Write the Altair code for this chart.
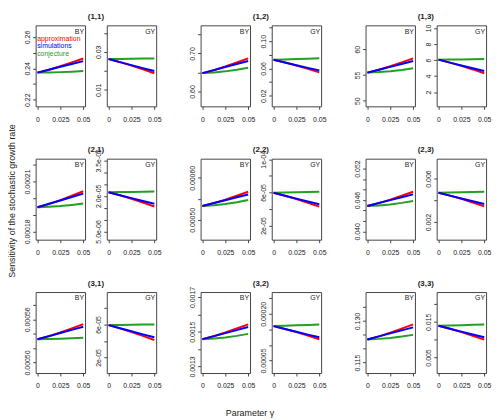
import altair as alt
import pandas as pd

FONT = "Liberation Sans"

gamma = [0, 0.0125, 0.025, 0.0375, 0.05]
series_names = ["approximation", "simulations", "conjecture"]
series_colors = {"approximation": "#FF0000", "simulations": "#0000FF", "conjecture": "#22A022"}
x_ticks = [0, 0.025, 0.05]
x_tick_labels = ["0", "0.025", "0.05"]

# ---- (1,1)
by11_approximation = [0.2373, 0.2391, 0.2414, 0.2438, 0.2463]
by11_simulations = [0.2373, 0.2391, 0.2410, 0.2428, 0.2446]
by11_conjecture = [0.2373, 0.2374, 0.2376, 0.2379, 0.2383]
gy11_approximation = [0.02617, 0.02453, 0.02273, 0.02079, 0.01870]
gy11_simulations = [0.02617, 0.02454, 0.02298, 0.02141, 0.01991]
gy11_conjecture = [0.02617, 0.02624, 0.02633, 0.02642, 0.02652]
# ---- (1,2)
by12_approximation = [0.6483, 0.6560, 0.6657, 0.6762, 0.6870]
by12_simulations = [0.6483, 0.6562, 0.6642, 0.6721, 0.6800]
by12_conjecture = [0.6483, 0.6500, 0.6529, 0.6572, 0.6626]
gy12_approximation = [0.0727, 0.0687, 0.0642, 0.0595, 0.0543]
gy12_simulations = [0.0727, 0.0687, 0.0648, 0.0609, 0.0572]
gy12_conjecture = [0.0727, 0.0732, 0.0738, 0.0744, 0.0751]
# ---- (1,3)
by13_approximation = [55.45, 56.00, 56.69, 57.44, 58.21]
by13_simulations = [55.45, 56.01, 56.57, 57.13, 57.69]
by13_conjecture = [55.45, 55.55, 55.72, 55.96, 56.28]
gy13_approximation = [6.05, 5.68, 5.27, 4.83, 4.35]
gy13_simulations = [6.05, 5.68, 5.33, 4.98, 4.64]
gy13_conjecture = [6.05, 6.06, 6.08, 6.10, 6.12]
# ---- (2,1)
by21_approximation = [0.0001945, 0.0001964, 0.0001988, 0.0002014, 0.0002041]
by21_simulations = [0.0001945, 0.0001966, 0.0001986, 0.0002007, 0.0002027]
by21_conjecture = [0.0001945, 0.0001948, 0.0001952, 0.0001959, 0.0001967]
gy21_approximation = [2.154e-5, 2.022e-5, 1.878e-5, 1.721e-5, 1.553e-5]
gy21_simulations = [2.154e-5, 2.027e-5, 1.905e-5, 1.782e-5, 1.665e-5]
gy21_conjecture = [2.154e-5, 2.160e-5, 2.167e-5, 2.174e-5, 2.182e-5]
# ---- (2,2)
by22_approximation = [0.0005331, 0.0005399, 0.0005483, 0.0005574, 0.0005669]
by22_simulations = [0.0005331, 0.0005400, 0.0005469, 0.0005537, 0.0005606]
by22_conjecture = [0.0005331, 0.0005348, 0.0005376, 0.0005418, 0.0005472]
gy22_approximation = [5.96e-5, 5.59e-5, 5.19e-5, 4.75e-5, 4.28e-5]
gy22_simulations = [5.96e-5, 5.60e-5, 5.25e-5, 4.90e-5, 4.56e-5]
gy22_conjecture = [5.96e-5, 5.99e-5, 6.01e-5, 6.05e-5, 6.08e-5]
# ---- (2,3)
by23_approximation = [0.04486, 0.04540, 0.04608, 0.04682, 0.04758]
by23_simulations = [0.04486, 0.04542, 0.04597, 0.04653, 0.04708]
by23_conjecture = [0.04486, 0.04497, 0.04516, 0.04545, 0.04581]
gy23_approximation = [0.00470, 0.00443, 0.00413, 0.00380, 0.00345]
gy23_simulations = [0.00470, 0.00443, 0.00417, 0.00392, 0.00367]
gy23_conjecture = [0.00470, 0.00472, 0.00474, 0.00476, 0.00479]
# ---- (3,1)
by31_approximation = [0.0005322, 0.0005364, 0.0005417, 0.0005474, 0.0005533]
by31_simulations = [0.0005322, 0.0005366, 0.0005410, 0.0005453, 0.0005497]
by31_conjecture = [0.0005322, 0.0005325, 0.0005329, 0.0005336, 0.0005345]
gy31_approximation = [5.92e-5, 5.52e-5, 5.09e-5, 4.62e-5, 4.12e-5]
gy31_simulations = [5.92e-5, 5.54e-5, 5.17e-5, 4.80e-5, 4.44e-5]
gy31_conjecture = [5.92e-5, 5.94e-5, 5.96e-5, 5.98e-5, 6.00e-5]
# ---- (3,2)
by32_approximation = [0.0014571, 0.0014741, 0.0014953, 0.0015182, 0.0015419]
by32_simulations = [0.0014571, 0.0014745, 0.0014919, 0.0015093, 0.0015267]
by32_conjecture = [0.0014571, 0.0014608, 0.0014669, 0.0014760, 0.0014876]
gy32_approximation = [0.0001606, 0.0001513, 0.0001411, 0.0001300, 0.0001181]
gy32_simulations = [0.0001606, 0.0001512, 0.0001422, 0.0001332, 0.0001245]
gy32_conjecture = [0.0001606, 0.0001617, 0.0001630, 0.0001645, 0.0001660]
# ---- (3,3)
by33_approximation = [0.12336, 0.12445, 0.12581, 0.12728, 0.12880]
by33_simulations = [0.12336, 0.12445, 0.12554, 0.12663, 0.12772]
by33_conjecture = [0.12336, 0.12356, 0.12388, 0.12438, 0.12500]
gy33_approximation = [0.01389, 0.01303, 0.01210, 0.01109, 0.01000]
gy33_simulations = [0.01389, 0.01305, 0.01224, 0.01143, 0.01065]
gy33_conjecture = [0.01389, 0.01396, 0.01406, 0.01416, 0.01426]

# y-axis ticks and their labels ('' = tick without label)
by11_ticks = [0.22, 0.23, 0.24, 0.25, 0.26]
by11_tick_labels = ["0.22", "", "0.24", "", "0.26"]
gy11_ticks = [0.01, 0.02, 0.03, 0.04]
gy11_tick_labels = ["0.01", "", "0.03", ""]
by12_ticks = [0.60, 0.65, 0.70, 0.75]
by12_tick_labels = ["0.60", "", "0.70", ""]
gy12_ticks = [0.02, 0.04, 0.06, 0.08, 0.10, 0.12]
gy12_tick_labels = ["0.02", "", "0.06", "", "0.10", ""]
by13_ticks = [50, 55, 60]
by13_tick_labels = ["50", "55", "60"]
gy13_ticks = [2, 4, 6, 8, 10]
gy13_tick_labels = ["2", "4", "6", "8", "10"]
by21_ticks = [0.00018, 0.00019, 0.00020, 0.00021, 0.00022]
by21_tick_labels = ["0.00018", "", "", "0.00021", ""]
gy21_ticks = [5e-6, 1e-5, 1.5e-5, 2e-5, 2.5e-5, 3e-5, 3.5e-5]
gy21_tick_labels = ["5.0e-06", "", "", "2.0e-05", "", "", "3.5e-05"]
by22_ticks = [0.00050, 0.00055, 0.00060]
by22_tick_labels = ["0.00050", "", "0.00060"]
gy22_ticks = [2e-5, 4e-5, 6e-5, 8e-5, 1e-4]
gy22_tick_labels = ["2e-05", "", "6e-05", "", "1e-04"]
by23_ticks = [0.040, 0.042, 0.044, 0.046, 0.048, 0.050, 0.052]
by23_tick_labels = ["0.040", "", "", "0.046", "", "", "0.052"]
gy23_ticks = [0.002, 0.004, 0.006]
gy23_tick_labels = ["0.002", "", "0.006"]
by31_ticks = [0.00050, 0.00052, 0.00054, 0.00056, 0.00058]
by31_tick_labels = ["0.00050", "", "", "0.00056", ""]
gy31_ticks = [2e-5, 4e-5, 6e-5, 8e-5]
gy31_tick_labels = ["2e-05", "", "6e-05", ""]
by32_ticks = [0.0013, 0.0014, 0.0015, 0.0016, 0.0017]
by32_tick_labels = ["0.0013", "", "0.0015", "", "0.0017"]
gy32_ticks = [5e-5, 1e-4, 1.5e-4, 2e-4, 2.5e-4]
gy32_tick_labels = ["0.00005", "", "", "0.00020", ""]
by33_ticks = [0.115, 0.120, 0.125, 0.130, 0.135]
by33_tick_labels = ["0.115", "", "", "0.130", ""]
gy33_ticks = [0.005, 0.010, 0.015, 0.020]
gy33_tick_labels = ["0.005", "", "0.015", ""]

# y-axis ranges (plot box limits)
by11_range = [0.2158, 0.2674]
gy11_range = [0.0013, 0.0439]
by12_range = [0.5609, 0.7739]
gy12_range = [0.0045, 0.1232]
by13_range = [48.91, 64.62]
gy13_range = [0.227, 10.33]
by21_range = [0.0001750, 0.0002237]
gy21_range = [1.51e-6, 3.57e-5]
by22_range = [0.0004528, 0.0006457]
gy22_range = [2.8e-6, 1.008e-4]
by23_range = [0.03842, 0.05389]
gy23_range = [0.00039, 0.00782]
by31_range = [0.0004853, 0.0005979]
gy31_range = [1.2e-6, 9.92e-5]
by32_range = [0.0012619, 0.0017286]
gy32_range = [0.0000096, 0.0002702]
by33_range = [0.1112, 0.1405]
gy33_range = [0.00065, 0.02333]

W, H = 50, 82
G = globals()


def label_expr(ticks, labels):
    step = min(abs(b - a) for a, b in zip(ticks, ticks[1:]))
    tol = step * 1e-3
    parts = []
    for t, l in zip(ticks, labels):
        if l:
            parts.append(f"abs(datum.value - ({t!r})) < {tol!r} ? '{l}' : ")
    return "".join(parts) + "''"


def panel(key, model, title=None, legend=False):
    p = f"{model.lower()}{key}"
    rows = []
    for s in series_names:
        for g, v in zip(gamma, G[f"{p}_{s}"]):
            rows.append({"gamma": g, "value": v, "series": s})
    df = pd.DataFrame(rows)
    ticks = G[f"{p}_ticks"]
    labels = G[f"{p}_tick_labels"]
    base = alt.Chart(df)
    x = alt.X("gamma:Q", scale=alt.Scale(domain=[-0.002, 0.052], nice=False, zero=False),
              axis=alt.Axis(values=x_ticks, labelExpr=label_expr(x_ticks, x_tick_labels),
                            title=None, labelPadding=6))
    y = alt.Y("value:Q", scale=alt.Scale(domain=G[f"{p}_range"], nice=False, zero=False),
              axis=alt.Axis(values=ticks, labelExpr=label_expr(ticks, labels), title=None,
                            labelAngle=270, labelAlign="center", labelBaseline="bottom",
                            labelPadding=2))
    layers = []
    for s in ["conjecture", "approximation", "simulations"]:
        layers.append(
            base.transform_filter(alt.datum.series == s)
            .mark_line(clip=True, strokeWidth=2, color=series_colors[s])
            .encode(x=x, y=y)
        )
    layers.append(
        alt.Chart(pd.DataFrame({"t": [model]})).mark_text(
            align="right", baseline="alphabetic", fontSize=7, font=FONT, color="#222")
        .encode(text="t:N", x=alt.value(W - 1), y=alt.value(8.5))
    )
    if title:
        layers.append(
            alt.Chart(pd.DataFrame({"t": [title]})).mark_text(
                align="center", baseline="alphabetic", fontSize=8, fontWeight="bold",
                font=FONT, color="#222")
            .encode(text="t:N", x=alt.value(W + 11), y=alt.value(-6.3))
        )
    if legend:
        for i, s in enumerate(series_names):
            layers.append(
                alt.Chart(pd.DataFrame({"t": [s]})).mark_text(
                    align="left", baseline="alphabetic", fontSize=7, font=FONT,
                    color=series_colors[s], clip=True)
                .encode(text="t:N", x=alt.value(1.5), y=alt.value(15.5 + 7.7 * i))
            )
    return alt.layer(*layers).properties(width=W, height=H)


def spacer():
    return alt.Chart(pd.DataFrame({"v": [0]})).mark_point(opacity=0).encode(
        x=alt.X("v:Q", axis=None), y=alt.Y("v:Q", axis=None)
    ).properties(width=1, height=H, view=alt.ViewBackground(strokeOpacity=0))


cells = []
for i in range(1, 4):
    for j in range(1, 4):
        key = f"{i}{j}"
        cells.append(panel(key, "BY", title=f"({i},{j})", legend=(i == 1 and j == 1)))
        cells.append(panel(key, "GY"))
        if j < 3:
            cells.append(spacer())

grid = alt.concat(*cells, columns=8, spacing={"row": 53, "column": 22},
                  bounds="flush").resolve_scale(x="independent", y="independent").properties(
    title=alt.TitleParams("Sensitivity of the stochastic growth rate", orient="left",
                          anchor="middle", fontSize=9, fontWeight="normal", font=FONT,
                          color="#222", offset=6))

chart = alt.vconcat(grid).properties(
    title=alt.TitleParams("Parameter γ", orient="bottom", anchor="middle", fontSize=9,
                          fontWeight="normal", font=FONT, color="#222", offset=20),
    padding={"left": 0, "top": 2, "right": 0, "bottom": 0},
).configure_view(stroke="#444", strokeWidth=1).configure_axis(
    domain=False, grid=False, tickColor="#444", tickSize=3, labelFont=FONT,
    labelFontSize=7, labelColor="#222"
)

chart.save("out.html", embed_options={"renderer": "svg", "actions": False})
